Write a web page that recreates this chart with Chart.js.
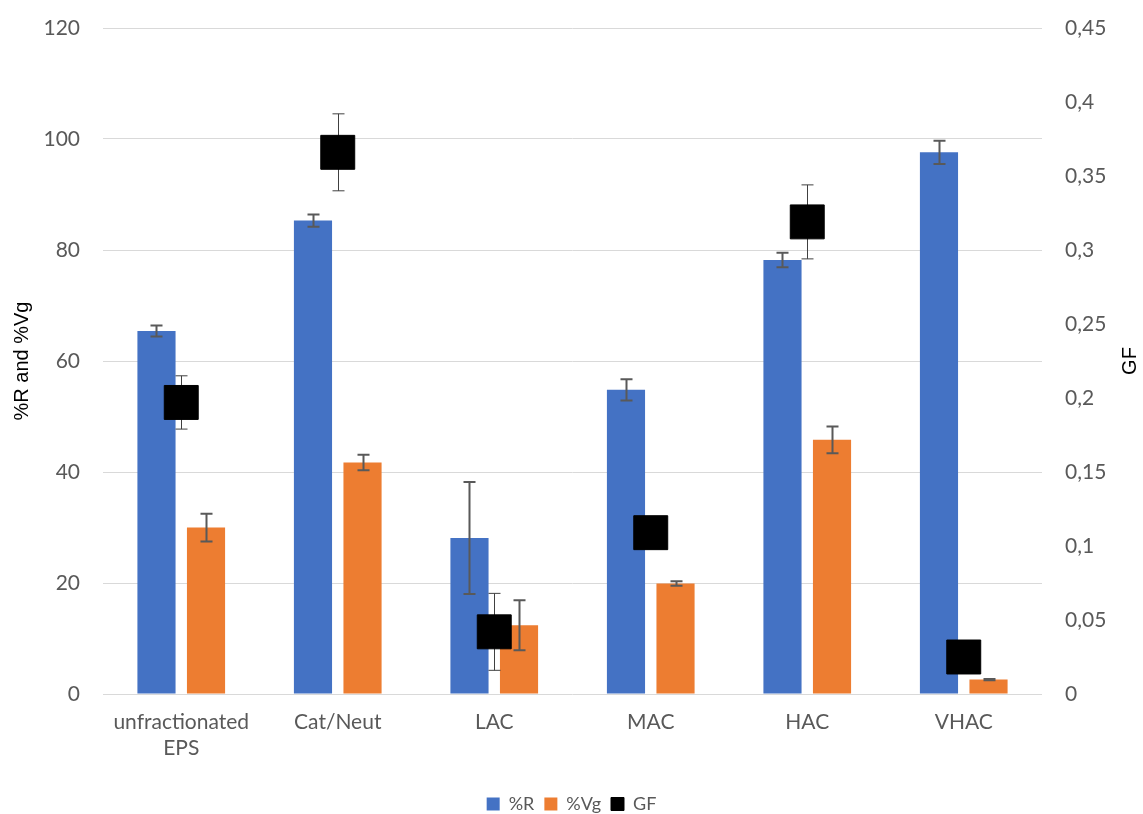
<!DOCTYPE html>
<html lang="en">
<head>
    <meta charset="UTF-8">
    <title>%R, %Vg and GF</title>
    <style>
        html, body { margin: 0; padding: 0; background: #fff; }
        .chart-box { width: 1143px; height: 814px; }
    </style>
</head>
<body>
    <div class="chart-box">
        <canvas id="mychart"></canvas>
    </div>
    <script src="https://cdn.jsdelivr.net/npm/chart.js@4/dist/chart.umd.min.js"></script>
    <script>
        // data
        const categories = [['unfractionated', 'EPS'], 'Cat/Neut', 'LAC', 'MAC', 'HAC', 'VHAC']
        const rValues = [65.4, 85.3, 28.1, 54.8, 78.2, 97.6]
        const rErrors = [1.0, 1.1, 10.1, 1.9, 1.3, 2.1]
        const vgValues = [30.0, 41.7, 12.4, 19.9, 45.8, 2.6]
        const vgErrors = [2.5, 1.4, 4.5, 0.4, 2.4, 0.1]
        const gfValues = [0.197, 0.366, 0.042, 0.109, 0.319, 0.025]
        const gfErrors = [0.018, 0.026, 0.026, 0.005, 0.025, 0.004]

        const tickFont = { family: 'Lato, "Open Sans", sans-serif', size: 21 }
        const tickColor = '#595959'

        // error bars: bars after they are drawn, GF before (so the square covers the line)
        function drawErrors(chart, meta, errors, color, lineWidth) {
            const ctx = chart.ctx
            const scale = chart.scales[meta.yAxisID]
            const values = chart.data.datasets[meta.index].data
            ctx.save()
            ctx.strokeStyle = color
            ctx.lineWidth = lineWidth
            meta.data.forEach((el, i) => {
                const yTop = scale.getPixelForValue(values[i] + errors[i])
                const yBot = scale.getPixelForValue(values[i] - errors[i])
                const x = Math.round(el.x) + 0.5
                ctx.beginPath()
                ctx.moveTo(x, yTop)
                ctx.lineTo(x, yBot)
                ctx.moveTo(x - 6, yTop)
                ctx.lineTo(x + 6, yTop)
                ctx.moveTo(x - 6, yBot)
                ctx.lineTo(x + 6, yBot)
                ctx.stroke()
            })
            ctx.restore()
        }

        const errorBars = {
            id: 'errorBars',
            afterDatasetDraw(chart, args) {
                const ds = chart.data.datasets[args.index]
                if (ds.type !== 'line') drawErrors(chart, args.meta, ds.errors, '#595959', 2)
            },
            beforeDatasetDraw(chart, args) {
                const ds = chart.data.datasets[args.index]
                if (ds.type === 'line') drawErrors(chart, args.meta, ds.errors, '#404040', 1)
            },
        }

        // right axis title reads bottom-to-top like the left one
        const rightTitle = {
            id: 'rightTitle',
            afterDraw(chart) {
                const ctx = chart.ctx
                const area = chart.chartArea
                ctx.save()
                ctx.translate(1130, (area.top + area.bottom) / 2)
                ctx.rotate(-Math.PI / 2)
                ctx.fillStyle = '#000'
                ctx.font = '20px "Liberation Sans", Arial, sans-serif'
                ctx.textAlign = 'center'
                ctx.textBaseline = 'middle'
                ctx.fillText('GF', 0, 0)
                ctx.restore()
            },
        }

        // fixed axis sizes so the plot area sits where it does in the picture
        function fixY(width) {
            return (s) => {
                s.width = width
                s.paddingTop = 0
                s.paddingBottom = 0
            }
        }

        const mychart = document.querySelector('#mychart')

        new Chart(mychart, {
            type: 'bar',
            data: {
                labels: categories,
                datasets: [
                    {
                        label: '%R',
                        data: rValues,
                        errors: rErrors,
                        backgroundColor: '#4472C4',
                        yAxisID: 'y',
                        order: 1,
                        categoryPercentage: 0.633,
                        barPercentage: 0.77,
                    },
                    {
                        label: '%Vg',
                        data: vgValues,
                        errors: vgErrors,
                        backgroundColor: '#ED7D31',
                        yAxisID: 'y',
                        order: 2,
                        categoryPercentage: 0.633,
                        barPercentage: 0.77,
                    },
                    {
                        type: 'line',
                        label: 'GF',
                        data: gfValues,
                        errors: gfErrors,
                        showLine: false,
                        pointStyle: 'rect',
                        pointRadius: 24,
                        pointHoverRadius: 24,
                        backgroundColor: '#000',
                        borderColor: '#000',
                        borderWidth: 1,
                        yAxisID: 'y1',
                        order: 0,
                    },
                ],
            },
            options: {
                responsive: true,
                maintainAspectRatio: false,
                animation: false,
                layout: { autoPadding: false, padding: { top: 28, left: 0, right: 0, bottom: -9 } },
                plugins: {
                    tooltip: { enabled: false },
                    legend: {
                        position: 'bottom',
                        labels: {
                            sort: (a, b) => a.datasetIndex - b.datasetIndex,
                            boxWidth: 13,
                            boxHeight: 13,
                            padding: 10,
                            color: tickColor,
                            font: { family: 'Lato, "Open Sans", sans-serif', size: 18 },
                        },
                    },
                },
                scales: {
                    x: {
                        grid: { display: false, drawTicks: false },
                        border: { display: false },
                        ticks: { color: tickColor, font: tickFont, padding: 16, maxRotation: 0, autoSkip: false },
                        afterFit: (s) => { s.height = 91 },
                    },
                    y: {
                        position: 'left',
                        min: 0,
                        max: 120,
                        ticks: { stepSize: 20, color: tickColor, font: tickFont, padding: 23 },
                        grid: { color: '#D9D9D9', lineWidth: 1, drawTicks: false },
                        border: { display: false },
                        title: {
                            display: true,
                            text: '%R and %Vg',
                            color: '#000',
                            font: { family: '"Liberation Sans", Arial, sans-serif', size: 20 },
                            padding: { top: 10, bottom: 0 },
                        },
                        afterFit: fixY(103),
                    },
                    y1: {
                        position: 'right',
                        min: 0,
                        max: 0.45,
                        ticks: {
                            stepSize: 0.05,
                            color: tickColor,
                            font: tickFont,
                            padding: 23,
                            callback: (v) => String(+v.toFixed(2)).replace('.', ','),
                        },
                        grid: { display: false, drawTicks: false },
                        border: { display: false },
                        afterFit: fixY(101),
                    },
                },
            },
            plugins: [errorBars, rightTitle],
        })
    </script>
</body>
</html>
